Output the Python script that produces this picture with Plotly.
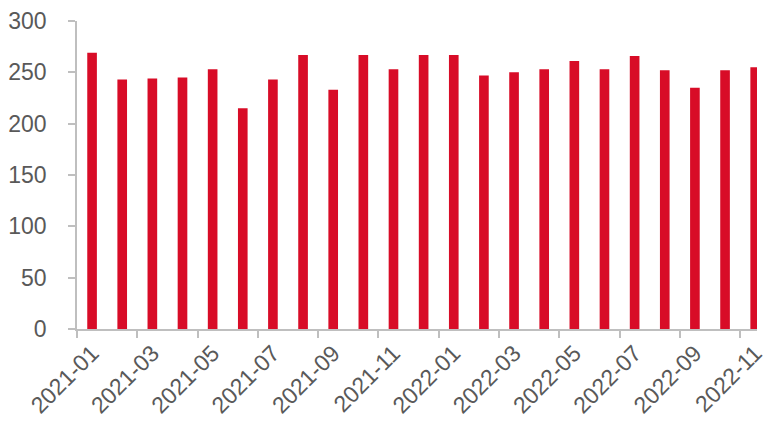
import plotly.graph_objects as go

months = ["2021-01", "2021-02", "2021-03", "2021-04", "2021-05", "2021-06",
          "2021-07", "2021-08", "2021-09", "2021-10", "2021-11", "2021-12",
          "2022-01", "2022-02", "2022-03", "2022-04", "2022-05", "2022-06",
          "2022-07", "2022-08", "2022-09", "2022-10", "2022-11"]
values = [269, 243, 244, 245, 253, 215,
          243, 267, 233, 267, 253, 267,
          267, 247, 250, 253, 261, 253,
          266, 252, 235, 252, 255]

font_family = "Liberation Sans, Arial, sans-serif"
text_color = "#595959"
axis_color = "#BFBFBF"

fig = go.Figure(go.Bar(x=months, y=values, marker=dict(color="#D80C27", line=dict(width=0))))

fig.update_layout(
    width=767, height=421,
    margin=dict(l=77, r=0, t=21, b=92),
    paper_bgcolor="white", plot_bgcolor="white",
    bargap=0.68,
    showlegend=False,
    font=dict(family=font_family, size=23, color=text_color),
)
fig.update_xaxes(
    type="category",
    range=[-0.5, 22.06],
    tickmode="linear", tick0=0, dtick=2,
    tickson="boundaries",
    ticks="outside", ticklen=7, tickwidth=1.5, tickcolor=axis_color,
    showline=True, linecolor=axis_color, linewidth=1.5,
    showgrid=False,
    tickangle=-45,
    tickfont=dict(family=font_family, size=23, color=text_color),
)
fig.update_yaxes(
    range=[0, 300], tickmode="linear", tick0=0, dtick=50,
    ticks="outside", ticklen=7, tickwidth=1.5, tickcolor=axis_color,
    showline=True, linecolor=axis_color, linewidth=1.5,
    showgrid=False, zeroline=False,
    ticklabelstandoff=17,
    tickfont=dict(family=font_family, size=23, color=text_color),
)

fig.write_html("out.html")
